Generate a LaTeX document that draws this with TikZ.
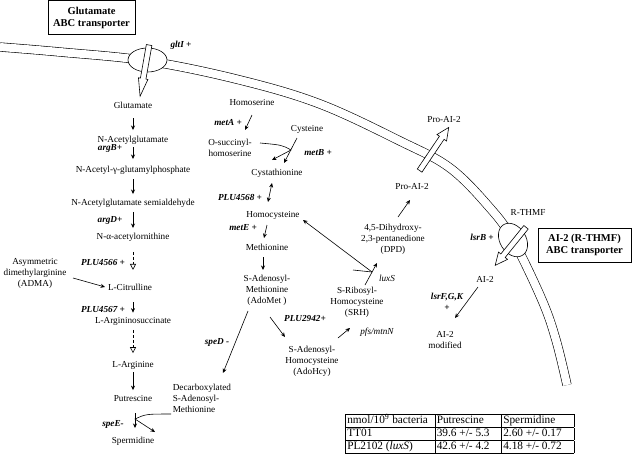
\documentclass[tikz,border=0pt]{standalone}
\usepackage{fontspec}
\setmainfont{Liberation Serif}
\usetikzlibrary{arrows.meta,shapes.arrows}

\begin{document}
\begin{tikzpicture}[x=1pt,y=-1pt,line width=0.6pt,
  mt/.style={inner sep=1.5pt,align=center,font=\fontsize{9.2}{11}\selectfont},
  gene/.style={mt,font=\fontsize{9.2}{11}\selectfont\bfseries\itshape},
  ital/.style={mt,font=\fontsize{9.2}{11}\selectfont\itshape},
  tbox/.style={draw,line width=0.8pt,align=center,minimum height=34pt,
    font=\fontsize{10.5}{12}\selectfont\bfseries},
  ar/.style={-{Stealth[length=4.5pt,width=4pt]}},
  reac/.style={ar,shorten <=3pt,shorten >=3pt},
  dreac/.style={densely dashed,-{Triangle[open,length=6pt,width=6pt]},shorten <=3pt,shorten >=3pt},
  trans/.style={single arrow,draw,fill=white,inner sep=2.5pt,single arrow head extend=3pt,
    single arrow tip angle=50}]

\useasboundingbox (0,0) rectangle (632,453);

% membrane
\draw[double distance=8pt] plot[smooth,tension=0.6] coordinates {(0,47) (60,52) (148,61)
  (240,80) (320,104) (400,141) (450,168) (490,208) (513,240) (542,300) (556,340) (567,385)};
\draw[fill=white] (147.5,60) ellipse (19.5 and 12);
\draw[fill=white,rotate around={-58:(513,240)}] (513,240) ellipse (18 and 13);

% transporters
\node[trans,single arrow tip angle=30,single arrow head extend=2pt,rotate=-100,
  minimum height=52pt] (gluin) at (145.5,65.5) {};
\node[trans,rotate=56,minimum height=52pt] (proex) at (432.5,151.5) {};
\node[trans,rotate=-129,minimum height=49pt] (ai2in) at (512.5,244) {};

\node[tbox,minimum width=87pt] (glubox) at (91.5,17.5) {Glutamate\\ABC transporter};
\node[tbox,minimum width=93pt] (ai2box) at (584.5,245) {AI-2 (R-THMF)\\ABC transporter};

% arginine / polyamine branch
\node[mt] (glu) at (133,105) {Glutamate};
\node[mt] (nag) at (133,140) {N-Acetylglutamate};
\node[mt] (nagp) at (133,170) {N-Acetyl-γ-glutamylphosphate};
\node[mt] (nags) at (133,203) {N-Acetylglutamate semialdehyde};
\node[mt] (nao) at (133,237) {N-α-acetylornithine};
\node[mt] (adma) at (35,273) {Asymmetric\\dimethylarginine\\(ADMA)};
\node[mt] (cit) at (130,287) {L-Citrulline};
\node[mt] (asuc) at (133,321) {L-Argininosuccinate};
\node[mt] (arg) at (133,365) {L-Arginine};
\node[mt] (put) at (133,398) {Putrescine};
\node[mt] (spd) at (133,441) {Spermidine};
\node[mt,anchor=west,align=left] (dcsam) at (171,398) {Decarboxylated\\S-Adenosyl-\\Methionine};

\node[gene] (gltI) at (181,45) {gltI +};
\node[gene] (argB) at (110,148) {argB+};
\node[gene] (argD) at (110,220) {argD+};
\node[gene] (p4566) at (103,262) {PLU4566 +};
\node[gene] (p4567) at (103,309) {PLU4567 +};
\node[gene] (speE) at (113,424) {speE-};
\node[gene] (speD) at (217,342) {speD -};

% methionine / AI-2 branch
\node[mt] (hser) at (252,102) {Homoserine};
\node[mt] (osh) at (230,148) {O-succinyl-\\homoserine};
\node[mt] (cys) at (307,129) {Cysteine};
\node[mt] (cth) at (277,173) {Cystathionine};
\node[mt] (hcy) at (273,215) {Homocysteine};
\node[mt] (met) at (267,247) {Methionine};
\node[mt] (sam) at (267,290) {S-Adenosyl-\\Methionine\\(AdoMet )};
\node[mt] (sah) at (312,361) {S-Adenosyl-\\Homocysteine\\(AdoHcy)};
\node[mt] (srh) at (357,302) {S-Ribosyl-\\Homocysteine\\(SRH)};
\node[mt] (dpd) at (393,239) {4,5-Dihydroxy-\\2,3-pentanedione\\(DPD)};
\node[mt] (proin) at (412,186) {Pro-AI-2};
\node[mt] (proout) at (444,119) {Pro-AI-2};
\node[mt] (rthmf) at (528,212) {R-THMF};
\node[mt] (ai2) at (485,279) {AI-2};
\node[mt] (ai2mod) at (445,340) {AI-2\\modified};

\node[gene] (metA) at (228,123) {metA +};
\node[gene] (metB) at (318,153) {metB +};
\node[gene] (p4568) at (240,197) {PLU4568 +};
\node[gene] (metE) at (243,228) {metE +};
\node[gene] (p2942) at (305,318) {PLU2942+};
\node[ital] (pfs) at (377,332) {pfs/mtnN};
\node[ital] (luxS) at (387,278) {luxS};
\node[gene] (lsrB) at (482,237) {lsrB +};
\node[gene] (lsrFGK) at (447,302) {lsrF,G,K\\+};

% reactions
\draw[reac,shorten <=8pt,shorten >=4pt] (glu) -- (nag);
\draw[reac,shorten <=1.5pt,shorten >=5pt] (nag) -- (nagp);
\draw[reac] (nagp) -- (nags);
\draw[reac] (nags) -- (nao);
\draw[dreac,shorten <=9pt,shorten >=12pt] (nao) -- (nao |- cit.north);
\draw[ar] ([shift={(38,5)}]adma.center) -- ([shift={(-25,0)}]cit.center);
\draw[reac,shorten <=10pt,shorten >=2.5pt] (asuc.north |- cit.south) -- (asuc);
\draw[dreac,shorten >=6pt] (asuc) -- (arg);
\draw[reac,shorten <=1.5pt] (arg) -- (put);
\coordinate (jE) at ([shift={(2,21)}]put.center);
\draw[ar] ([shift={(2,15)}]put.center) -- ([shift={(2,-13)}]spd.center);
\draw[ar] (dcsam.south west) .. controls (146,414) .. (jE) -- ([shift={(22,-9)}]spd.center);

\draw[ar] ([shift={(0,13)}]hser.center) -- ([shift={(15,-18)}]osh.center);
\coordinate (jB) at (291,150);
\draw[ar] ([shift={(30,-5)}]osh.center) .. controls (282,145) .. (jB) -- ([shift={(-5,-13)}]cth.center);
\draw[ar] ([shift={(-10,9)}]cys.center) -- ([shift={(7,-10)}]cth.center);
\draw[{Stealth[length=4.5pt,width=4pt]}-{Stealth[length=4.5pt,width=4pt]}]
  ([shift={(-5,10)}]cth.center) -- ([shift={(-5,-13)}]hcy.center);
\draw[ar] ([shift={(-6,10)}]hcy.center) -- ([shift={(-3,-9)}]met.center);
\draw[ar] ([shift={(-4,10)}]met.center) -- ([shift={(-4,-20)}]sam.center);
\draw[ar] ([shift={(3,27)}]sam.center) -- ([shift={(-27,-24)}]sah.center);
\draw[ar] ([shift={(-19,21)}]sam.center) -- ([shift={(52,-9)}]dcsam.north west);
\draw[ar] ([shift={(26,-23)}]sah.center) -- ([shift={(-7,26)}]srh.center);
\draw[ar] ([shift={(8,-17)}]srh.center) -- ([shift={(-16,24)}]dpd.center);
\coordinate (jL) at (372,272);
\draw ([shift={(-4,-32)}]srh.center) -- (jL);
\draw[ar] (jL) -- ([shift={(30,5)}]hcy.center);
\draw[ar] ([shift={(5,-22)}]dpd.center) -- ([shift={(-2,14)}]proin.center);
\draw[ar] ([shift={(-7,8)}]ai2.center) -- ([shift={(10,-22)}]ai2mod.center);

% polyamine levels
\node[anchor=north west,inner sep=0pt,font=\fontsize{11.3}{12.6}\selectfont] (tbl) at (345,413.5)
  {\setlength{\tabcolsep}{2pt}\begin{tabular}{|p{85.5pt}|p{62.5pt}|p{68.5pt}|}\hline
  nmol/10\textsuperscript{9} bacteria & Putrescine & Spermidine\\\hline
  TT01 & 39.6 +/- 5.3 & 2.60 +/- 0.17\\\hline
  PL2102 (\textit{luxS}) & 42.6 +/- 4.2 & 4.18 +/- 0.72\\\hline
  \end{tabular}};
\end{tikzpicture}
\end{document}
